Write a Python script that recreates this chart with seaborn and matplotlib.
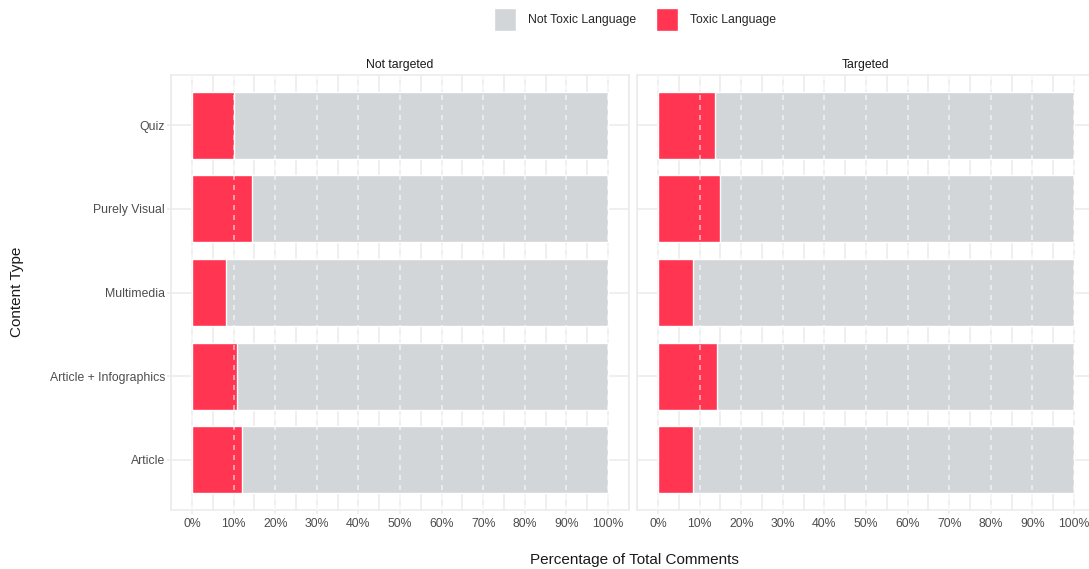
import matplotlib
matplotlib.use("Agg")
import matplotlib.pyplot as plt
from matplotlib.patches import Patch
from matplotlib.ticker import MultipleLocator
import seaborn as sns
import pandas as pd

# data (percent of comments)
content_types = ["Quiz", "Purely Visual", "Multimedia", "Article + Infographics", "Article"]
groups = ["Not targeted", "Targeted"]
toxic_not_targeted = [10.0, 14.4, 8.2, 10.8, 12.0]
toxic_targeted = [13.7, 14.9, 8.4, 14.2, 8.4]
not_toxic_not_targeted = [90.0, 85.6, 91.8, 89.2, 88.0]
not_toxic_targeted = [86.3, 85.1, 91.6, 85.8, 91.6]
x_ticks = list(range(0, 101, 10))

toxic_color = "#FF3551"
not_toxic_color = "#D2D6D9"
grid_color = "#EBEBEB"
text_color = "#4D4D4D"

sns.set_theme(style="white")
plt.rcParams["font.family"] = ["Liberation Sans", "DejaVu Sans"]

W, H = 1089, 569
fig = plt.figure(figsize=(W / 100, H / 100), dpi=100)
ax_left = fig.add_axes([171.2 / W, 59 / H, 457.6 / W, 435 / H])
ax_right = fig.add_axes([637.2 / W, 59 / H, 457.6 / W, 435 / H])

panels = [
    (ax_left, groups[0], toxic_not_targeted, not_toxic_not_targeted),
    (ax_right, groups[1], toxic_targeted, not_toxic_targeted),
]

for ax, group, toxic, not_toxic in panels:
    df = pd.DataFrame({"content": content_types, "toxic": toxic, "not_toxic": not_toxic})
    df["total"] = df["toxic"] + df["not_toxic"]

    # stacked: full bar in grey, toxic share in red on top
    sns.barplot(data=df, x="total", y="content", order=content_types, color=not_toxic_color,
                saturation=1, width=0.8, errorbar=None, ax=ax, zorder=2)
    sns.barplot(data=df, x="toxic", y="content", order=content_types, color=toxic_color,
                saturation=1, width=0.8, errorbar=None, ax=ax, zorder=3)

    for t in x_ticks:
        ax.axvline(t, color="white", ls=(0, (3, 3)), lw=1.2, alpha=0.6, zorder=4)

    ax.set_xlim(-5, 105)
    ax.set_ylim(4.6, -0.6)
    ax.set_xticks(x_ticks)
    ax.set_xticklabels([f"{t}%" for t in x_ticks])
    ax.xaxis.set_minor_locator(MultipleLocator(5))
    ax.set_axisbelow(True)
    ax.grid(which="both", axis="x", color=grid_color, lw=1.1, zorder=0)
    ax.grid(which="major", axis="y", color=grid_color, lw=1.1, zorder=0)
    ax.tick_params(axis="both", which="major", labelsize=8.8, labelcolor=text_color,
                   color=grid_color, length=3, width=1.1, pad=2.5,
                   bottom=True, left=True)
    ax.tick_params(axis="y", pad=1.5)
    ax.tick_params(axis="x", which="minor", length=0)
    for sp in ax.spines.values():
        sp.set_color(grid_color)
        sp.set_linewidth(1.1)
    ax.set_xlabel("")
    ax.set_ylabel("")
    ax.set_title(group, fontsize=8.8, color="#1A1A1A", pad=5)

ax_right.tick_params(axis="y", left=False, labelleft=False)

fig.text(634 / W, 1 - 560 / H, "Percentage of Total Comments", ha="center", va="center",
         fontsize=11, color="#1A1A1A")
fig.text(17 / W, 1 - 292 / H, "Content Type", ha="center", va="center", rotation=90,
         fontsize=11, color="#1A1A1A")

handles = [Patch(facecolor=not_toxic_color, label="Not Toxic Language"),
           Patch(facecolor=toxic_color, label="Toxic Language")]
fig.legend(handles=handles, loc="upper center", bbox_to_anchor=(635 / W, 0.997), ncol=2,
           frameon=False, fontsize=8.8, handlelength=1.8, handleheight=2.5,
           handletextpad=0.95, columnspacing=1.65, borderaxespad=0.1)

fig.savefig("out.png", dpi=100)
